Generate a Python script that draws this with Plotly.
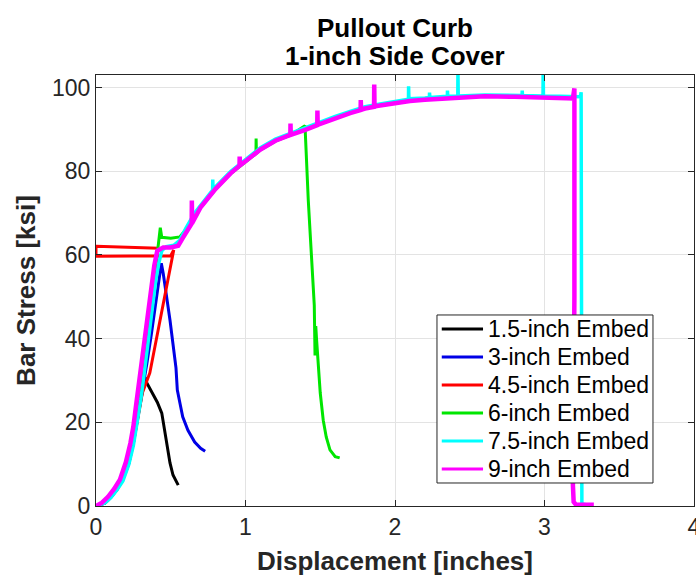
import plotly.graph_objects as go

# Pullout test results: displacement [in] vs. bar stress [ksi] for each embedment length
disp_15 = [0, 0.06, 0.1, 0.14, 0.18, 0.22, 0.25, 0.28, 0.31, 0.328, 0.34, 0.375, 0.41, 0.44, 0.46, 0.48, 0.495, 0.515, 0.55]
stress_15 = [0, 0.8, 2.2, 4, 6.5, 10.5, 15.5, 21.5, 28, 30.8, 29.4, 27, 24.8, 22.2, 18.1, 14, 10.3, 7.4, 5]

disp_30 = [0, 0.06, 0.1, 0.14, 0.18, 0.22, 0.25, 0.28, 0.31, 0.34, 0.37, 0.4, 0.425, 0.437, 0.45, 0.495, 0.535, 0.544, 0.562, 0.58, 0.615, 0.66, 0.7, 0.73]
stress_30 = [0, 0.7, 2.1, 3.9, 6.3, 10.2, 15, 21, 27.5, 34, 41, 49, 55.5, 58, 55.5, 44.4, 33, 27.7, 24.5, 21.3, 18.1, 15.3, 13.8, 13.1]

disp_45 = [0, 0.06, 0.1, 0.14, 0.18, 0.22, 0.25, 0.28, 0.31, 0.36, 0.42, 0.48, 0.52, 0.5, 0, 0, 0.42]
stress_45 = [0, 0.7, 2.1, 3.9, 6.4, 10.3, 15, 21, 27, 31.8, 43, 54, 61.2, 59.8, 59.7, 62.1, 61.6]

disp_60 = [0, 0.06, 0.1, 0.14, 0.18, 0.22, 0.25, 0.28, 0.3, 0.32, 0.34, 0.36, 0.38, 0.4, 0.42, 0.43, 0.44, 0.5, 0.56,
           0.6, 0.7, 0.8, 0.9, 1.0, 1.07, 1.071, 1.073, 1.1, 1.2, 1.3, 1.398, 1.42, 1.443, 1.46, 1.465, 1.47, 1.475,
           1.5, 1.52, 1.54, 1.565, 1.6, 1.63]
stress_60 = [0, 0.8, 2.3, 4.1, 6.6, 10.5, 15.5, 22, 27, 32.5, 38.5, 44.5, 50.5, 56.5, 62, 66.5, 64.2, 64, 64.3,
             66, 71.3, 75.7, 79.4, 82.3, 84.2, 87.8, 84.3, 85.1, 87.2, 88.6, 90.9, 73, 57, 48, 36, 43, 40,
             27, 20.5, 16.5, 13.4, 11.8, 11.5]

disp_75 = [0, 0.06, 0.1, 0.14, 0.18, 0.22, 0.25, 0.28, 0.3, 0.32, 0.34, 0.36, 0.38, 0.4, 0.42, 0.44, 0.47, 0.52, 0.56,
           0.6, 0.66, 0.78, 0.781, 0.783, 0.8, 0.9, 1.0, 1.1, 1.2, 1.3, 1.4, 1.5, 1.6, 1.7, 1.8, 1.9, 2.0,
           2.09, 2.091, 2.093, 2.2, 2.23, 2.231, 2.233, 2.35, 2.351, 2.353, 2.42, 2.421, 2.423, 2.6, 2.8,
           2.85, 2.851, 2.853, 2.99, 2.991, 2.993, 3.1, 3.24, 3.245, 3.25, 3.25, 3.3]
stress_75 = [0, 0.7, 2, 3.8, 6, 10, 14.5, 20.5, 25.5, 31, 37, 43, 49, 54, 58, 61, 62, 62.3, 63.5,
             66.3, 70, 75.5, 78, 75.6, 76.3, 79.9, 82.8, 85.6, 87.7, 89.1, 90.3, 91.7, 93.1, 94.3, 95.4, 96.1, 96.7,
             97.2, 100.3, 97.3, 97.5, 97.6, 98.8, 97.6, 97.9, 99.3, 97.9, 98, 104, 98, 98.2, 98.1,
             98.1, 99.3, 98.1, 98, 104, 98, 97.9, 97.8, 98.9, 50, 0.5, 0.2]

disp_90 = [0, 0.04, 0.08, 0.12, 0.16, 0.2, 0.23, 0.25, 0.27, 0.29, 0.31, 0.33, 0.35, 0.37, 0.39, 0.41, 0.45, 0.5, 0.55,
           0.58, 0.62, 0.64, 0.641, 0.643, 0.7, 0.8, 0.9, 0.96, 0.961, 0.963, 1.0, 1.1, 1.2, 1.3, 1.301, 1.303,
           1.4, 1.48, 1.481, 1.483, 1.5, 1.6, 1.7, 1.77, 1.771, 1.773, 1.8, 1.86, 1.861, 1.863, 1.9, 2.0, 2.1,
           2.2, 2.4, 2.6, 2.8, 3.0, 3.1, 3.19, 3.2, 3.2, 3.19, 3.195, 3.21, 3.33]
stress_90 = [0, 0.8, 2.2, 4, 6.3, 10.5, 15, 19, 24.6, 30, 36, 42, 48, 53, 57.5, 61, 61.8, 61.8, 62.2,
             64, 66.5, 67.5, 73, 67.6, 71.4, 75.8, 79.5, 81.3, 83.5, 81.4, 82.4, 85.2, 87.3, 88.7, 91.4, 88.7,
             89.9, 91, 94.5, 91.1, 91.3, 92.7, 93.9, 94.6, 97, 94.7, 95, 95.4, 100.7, 95.5, 95.7, 96.3, 96.8,
             97.1, 97.6, 97.9, 97.8, 97.6, 97.5, 97.4, 99.8, 50, 5, 1, 0.3, 0.3]

series_names = ["1.5-inch Embed", "3-inch Embed", "4.5-inch Embed", "6-inch Embed", "7.5-inch Embed", "9-inch Embed"]
series_disp = [disp_15, disp_30, disp_45, disp_60, disp_75, disp_90]
series_stress = [stress_15, stress_30, stress_45, stress_60, stress_75, stress_90]
series_colors = ["#000000", "#0000e6", "#ff0000", "#00e600", "#00ffff", "#ff00ff"]
series_widths = [3, 3, 3, 3, 3.5, 4.5]

x_ticks = [0, 1, 2, 3, 4]
y_ticks = [0, 20, 40, 60, 80, 100]

FONT = "Liberation Sans, Arial, Helvetica, sans-serif"
AX_COLOR = "#262626"

fig = go.Figure()
for name, xs, ys, col, w in zip(series_names, series_disp, series_stress, series_colors, series_widths):
    fig.add_trace(go.Scatter(x=xs, y=ys, mode="lines", name=name,
                             line=dict(color=col, width=w), showlegend=False))

axis_common = dict(
    showline=True, linecolor=AX_COLOR, linewidth=1, mirror="ticks",
    ticks="inside", ticklen=6, tickwidth=1, tickcolor=AX_COLOR,
    showgrid=True, gridcolor="#e3e3e3", gridwidth=1, zeroline=False,
    tickfont=dict(family=FONT, size=23, color=AX_COLOR),
    ticklabeloverflow="allow", automargin=False,
)

fig.update_layout(
    width=696, height=582,
    margin=dict(l=96, r=2, t=75, b=76),
    paper_bgcolor="white", plot_bgcolor="white",
    xaxis=dict(range=[0, 4], tickvals=x_ticks, ticktext=[str(v) for v in x_ticks],
               title=dict(text="Displacement [inches]", standoff=13,
                          font=dict(family=FONT, size=26, color=AX_COLOR, weight="bold")),
               **axis_common),
    yaxis=dict(range=[0, 103], tickvals=y_ticks, ticktext=[str(v) for v in y_ticks],
               title=dict(text="Bar Stress [ksi]", standoff=8,
                          font=dict(family=FONT, size=26, color=AX_COLOR, weight="bold")),
               **axis_common),
)

# two-line bold title above the axes
fig.add_annotation(text="Pullout Curb", xref="paper", yref="paper", x=0.5, y=1.108,
                   xanchor="center", yanchor="middle", showarrow=False,
                   font=dict(family=FONT, size=26, color="#000000", weight="bold"))
fig.add_annotation(text="1-inch Side Cover", xref="paper", yref="paper", x=0.5, y=1.045,
                   xanchor="center", yanchor="middle", showarrow=False,
                   font=dict(family=FONT, size=26, color="#000000", weight="bold"))

# compact legend box in the lower right of the axes (paper coordinates)
leg_x0, leg_x1 = 0.5702, 0.9314
leg_top, leg_bottom = 0.4432, 0.0534
row_step = (leg_top - leg_bottom) / len(series_names)
fig.add_shape(type="rect", xref="paper", yref="paper", x0=leg_x0, x1=leg_x1, y0=leg_bottom, y1=leg_top,
              fillcolor="white", line=dict(color=AX_COLOR, width=1), layer="above")
for i, (name, col) in enumerate(zip(series_names, series_colors)):
    yc = leg_top - row_step * (i + 0.5)
    fig.add_shape(type="line", xref="paper", yref="paper", x0=leg_x0 + 0.008, x1=leg_x0 + 0.077,
                  y0=yc, y1=yc, line=dict(color=col, width=3), layer="above")
    fig.add_annotation(text=name, xref="paper", yref="paper", x=leg_x0 + 0.0825, y=yc,
                       xanchor="left", yanchor="middle", showarrow=False,
                       font=dict(family=FONT, size=23, color="#000000"))

fig.write_html("out.html")
